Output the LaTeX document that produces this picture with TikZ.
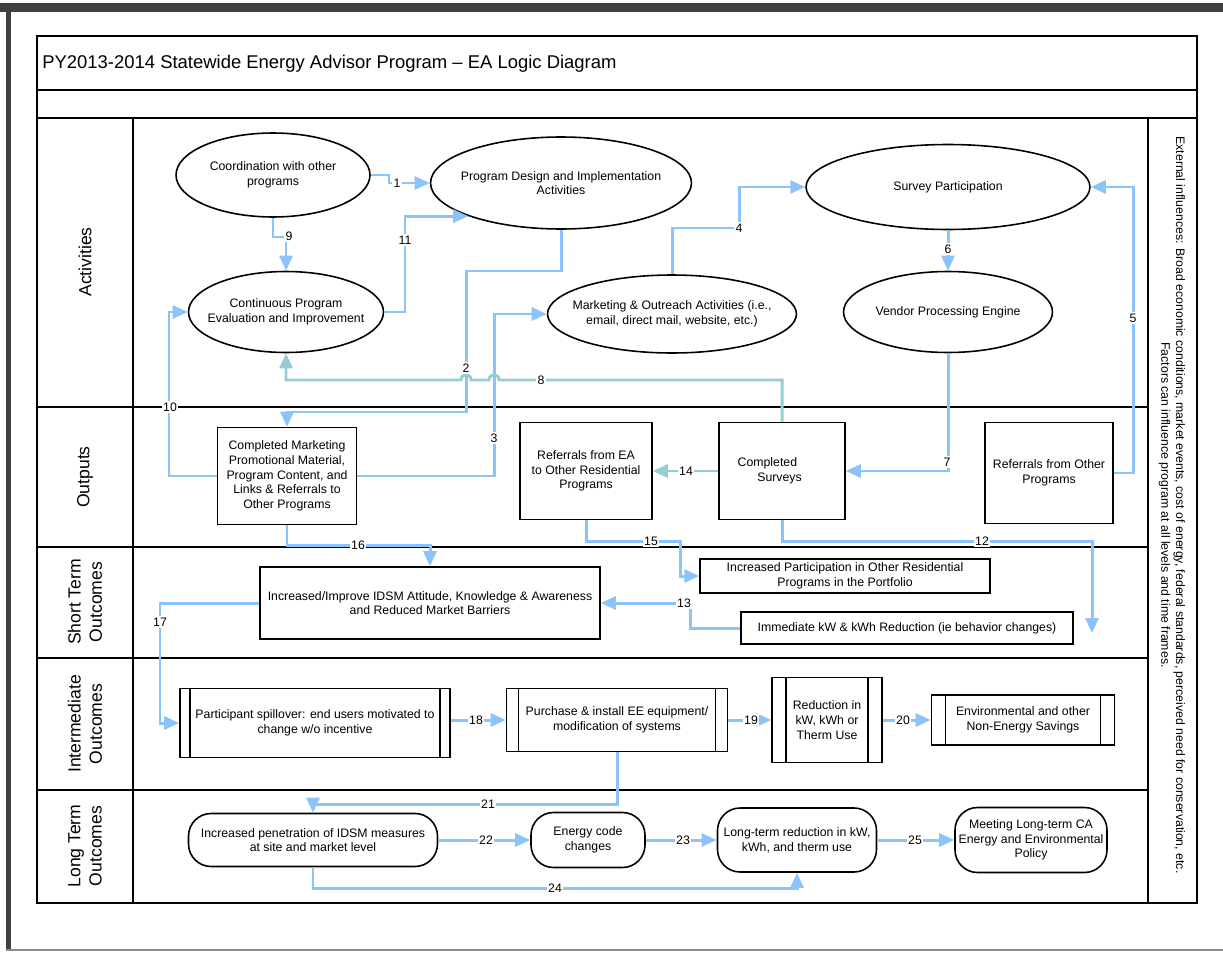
\documentclass[tikz,border=0pt]{standalone}
\usepackage{fontspec}
\setmainfont{Liberation Sans}
\usetikzlibrary{shapes.geometric, arrows.meta}

\definecolor{flowblue}{RGB}{140,195,250}
\definecolor{flowteal}{RGB}{150,205,212}

\tikzset{
  txt/.style={font=\fontsize{7}{8.4}\selectfont, align=center, inner sep=0pt},
  oval/.style={txt, draw, ellipse, line width=0.9pt, inner xsep=-1cm},
  box/.style={txt, draw, rectangle, line width=0.9pt},
  proc/.style={box, path picture={\draw[line width=0.9pt] ([xshift=#1]path picture bounding box.north west) -- ([xshift=#1]path picture bounding box.south west) ([xshift=-#1]path picture bounding box.north east) -- ([xshift=-#1]path picture bounding box.south east);}},
  proc/.default=0.24cm,
  term/.style={box, rounded corners=0.45cm},
  flow/.style={draw=flowblue, line width=1.7pt, -{Triangle[length=0.3cm,width=0.26cm]}},
  tflow/.style={flow, draw=flowteal},
  num/.style={fill=white, inner sep=0.8pt, font=\fontsize{7}{8}\selectfont},
  lane/.style={font=\fontsize{10}{12}\selectfont, rotate=90, align=center, inner sep=0pt}
}

\begin{document}
\begin{tikzpicture}[x=0.02cm, y=-0.02cm]
\useasboundingbox (0,0) rectangle (1223,953);
% page edge
\fill[black!75] (0,3) rectangle (1223,12);
\fill[black!75] (6,12) rectangle (11,950);
\draw[black!45, line width=0.6pt] (6,950) -- (1223,950);

% frame and lanes
\draw[line width=1pt] (37,36) rectangle (1197,903);
\draw[line width=1pt] (37,90) -- (1197,90) (37,118) -- (1197,118) (133,118) -- (133,903) (1148,118) -- (1148,903);
\foreach \y in {407,547,658,790}
  \draw[line width=1pt] (37,\y) -- (1148,\y);

\node[anchor=west, inner sep=0pt, font=\fontsize{10.5}{12}\selectfont] (title) at (42,64) {PY2013-2014 Statewide Energy Advisor Program – EA Logic Diagram};

\node[lane] (lact) at (85,262) {Activities};
\node[lane] (lout) at (85,477) {Outputs};
\node[lane] (lshort) at (85,602) {Short Term\\Outcomes};
\node[lane] (lint) at (85,724) {Intermediate\\Outcomes};
\node[lane] (llong) at (85,846) {Long Term\\Outcomes};

\node[txt, rotate=-90] (ext) at (1172,505) {External influences: Broad economic conditions, market events, cost of energy, federal standards, perceived need for conservation, etc.\\Factors can influence program at all levels and time frames.};

% activities
\node[oval, minimum width=3.88cm, minimum height=1.68cm] (coord) at (273,175) {Coordination with other\\programs};
\node[oval, minimum width=5.22cm, minimum height=1.84cm] (design) at (561,183) {Program Design and Implementation\\Activities};
\node[oval, minimum width=3.9cm, minimum height=1.62cm] (eval) at (286,312) {Continuous Program\\Evaluation and Improvement};
\node[oval, minimum width=4.98cm, minimum height=1.56cm] (mkt) at (672,314) {Marketing \& Outreach Activities (i.e.,\\email, direct mail, website, etc.)};
\node[oval, minimum width=5.68cm, minimum height=1.7cm] (survey) at (948,187) {Survey Participation};
\node[oval, minimum width=4.18cm, minimum height=1.62cm] (vendor) at (948,312) {Vendor Processing Engine};

% outputs
\node[box, minimum width=2.78cm, minimum height=1.94cm] (mktbox) at (287,476) {Completed Marketing\\Promotional Material,\\Program Content, and\\Links \& Referrals to\\Other Programs};
\node[box, minimum width=2.64cm, minimum height=1.94cm] (refea) at (586,471) {Referrals from EA\\to Other Residential\\Programs};
\node[box, minimum width=2.52cm, minimum height=1.94cm, align=left] (surveys) at (782,471) {Completed\\\hspace*{1.6em}Surveys\hspace*{2em}};
\node[box, minimum width=2.56cm, minimum height=2.02cm] (refother) at (1049,473) {Referrals from Other\\Programs};

% short term outcomes
\node[box, minimum width=6.8cm, minimum height=1.44cm] (idsm) at (430,603) {Increased/Improve IDSM Attitude, Knowledge \& Awareness\\and Reduced Market Barriers};
\node[box, minimum width=5.8cm, minimum height=0.68cm] (incpart) at (845,576) {Increased Participation in Other Residential\\Programs in the Portfolio};
\node[box, minimum width=6.64cm, minimum height=0.64cm] (imm) at (907,628) {Immediate kW \& kWh Reduction (ie behavior changes)};

% intermediate outcomes
\node[proc=0.2cm, minimum width=5.4cm, minimum height=1.38cm] (spill) at (315,723) {Participant spillover: end users motivated to\\change w/o incentive};
\node[proc, minimum width=4.42cm, minimum height=1.26cm] (purchase) at (617,720) {Purchase \& install EE equipment/\\modification of systems};
\node[proc=0.28cm, minimum width=2.2cm, minimum height=1.7cm] (reduction) at (827,720) {Reduction in\\kW, kWh or\\Therm Use};
\node[proc=0.28cm, minimum width=3.66cm, minimum height=1cm] (environ) at (1023,720) {Environmental and other\\Non-Energy Savings};

% long term outcomes
\node[term, minimum width=4.98cm, minimum height=1.06cm] (incpen) at (313,840) {Increased penetration of IDSM measures\\at site and market level};
\node[term, minimum width=2.28cm, minimum height=1.1cm] (energycode) at (588,840) {Energy code\\changes};
\node[term, minimum width=3.18cm, minimum height=1.28cm] (ltred) at (797,840) {Long-term reduction in kW,\\kWh, and therm use};
\node[term, minimum width=3.04cm, minimum height=1.3cm] (meeting) at (1031,840) {Meeting Long-term CA\\Energy and Environmental\\Policy};

% connectors
\draw[flow] (coord.east) -- (389,175) |- (design.west);
\draw[flow] (design.south) |- (466,271) -- (466,412) -| (mktbox.north);
\draw[flow] (mktbox.east) -- (494,476) |- (mkt.west);
\draw[flow] (mkt.north) |- (739,228) |- (survey.west);
\draw[flow] (refother.east) -- (1133,473) |- (survey.east);
\draw[flow] (survey.south) -- (vendor.north);
\draw[flow] (vendor.south) |- (surveys.east);
\draw[tflow] (surveys.north) -- (782,380) -- (499,380) .. controls (499,373) and (489,373) .. (489,380) -- (471,380) .. controls (471,373) and (461,373) .. (461,380) -- (286,380) -- (eval.south);
\draw[flow] (coord.south) |- (286,237) -- (eval.north);
\draw[flow] (mktbox.west) -- (169,476) |- (eval.west);
\draw[flow] (eval.east) -- (405,312) |- (design.south west);
\coordinate (end12) at (1092,633);
\draw[flow] (surveys.south) |- (1092,541) -- (end12);
\draw[flow] (imm.west) -| (690,603) -- (idsm.east);
\draw[tflow] (surveys.west) -- (refea.east);
\draw[flow] (refea.south) |- (680,541) |- (incpart.west);
\draw[flow] (mktbox.south) -- (287,545) -| (idsm.north);
\draw[flow] (idsm.west) -- (160,603) |- (spill.west);
\draw[flow] (spill.east |- purchase.west) -- (purchase.west);
\draw[flow] (purchase.east) -- (reduction.west);
\draw[flow] (reduction.east) -- (environ.west);
\draw[flow] (purchase.south) -- (617,804) -| (incpen.north);
\draw[flow] (incpen.east) -- (energycode.west);
\draw[flow] (energycode.east) -- (ltred.west);
\draw[flow] (incpen.south) -- (313,888) -| (ltred.south);
\draw[flow] (ltred.east) -- (meeting.west);

% numbers
\node[num] (n1) at (397,183) {1};
\node[num] (n2) at (466,368) {2};
\node[num] (n3) at (494,438) {3};
\node[num] (n4) at (739,228) {4};
\node[num] (n5) at (1133,318) {5};
\node[num] (n6) at (948,249) {6};
\node[num] (n7) at (947,462) {7};
\node[num] (n8) at (541,380) {8};
\node[num] (n9) at (289,236) {9};
\node[num] (n10) at (170,407) {10};
\node[num] (n11) at (405,240) {11};
\node[num] (n12) at (982,541) {12};
\node[num] (n13) at (684,603) {13};
\node[num] (n14) at (686,471) {14};
\node[num] (n15) at (651,541) {15};
\node[num] (n16) at (358,545) {16};
\node[num] (n17) at (160,622) {17};
\node[num] (n18) at (476,720) {18};
\node[num] (n19) at (751,720) {19};
\node[num] (n20) at (903,720) {20};
\node[num] (n21) at (488,804) {21};
\node[num] (n22) at (486,840) {22};
\node[num] (n23) at (683,840) {23};
\node[num] (n24) at (555,888) {24};
\node[num] (n25) at (915,840) {25};
\end{tikzpicture}
\end{document}
